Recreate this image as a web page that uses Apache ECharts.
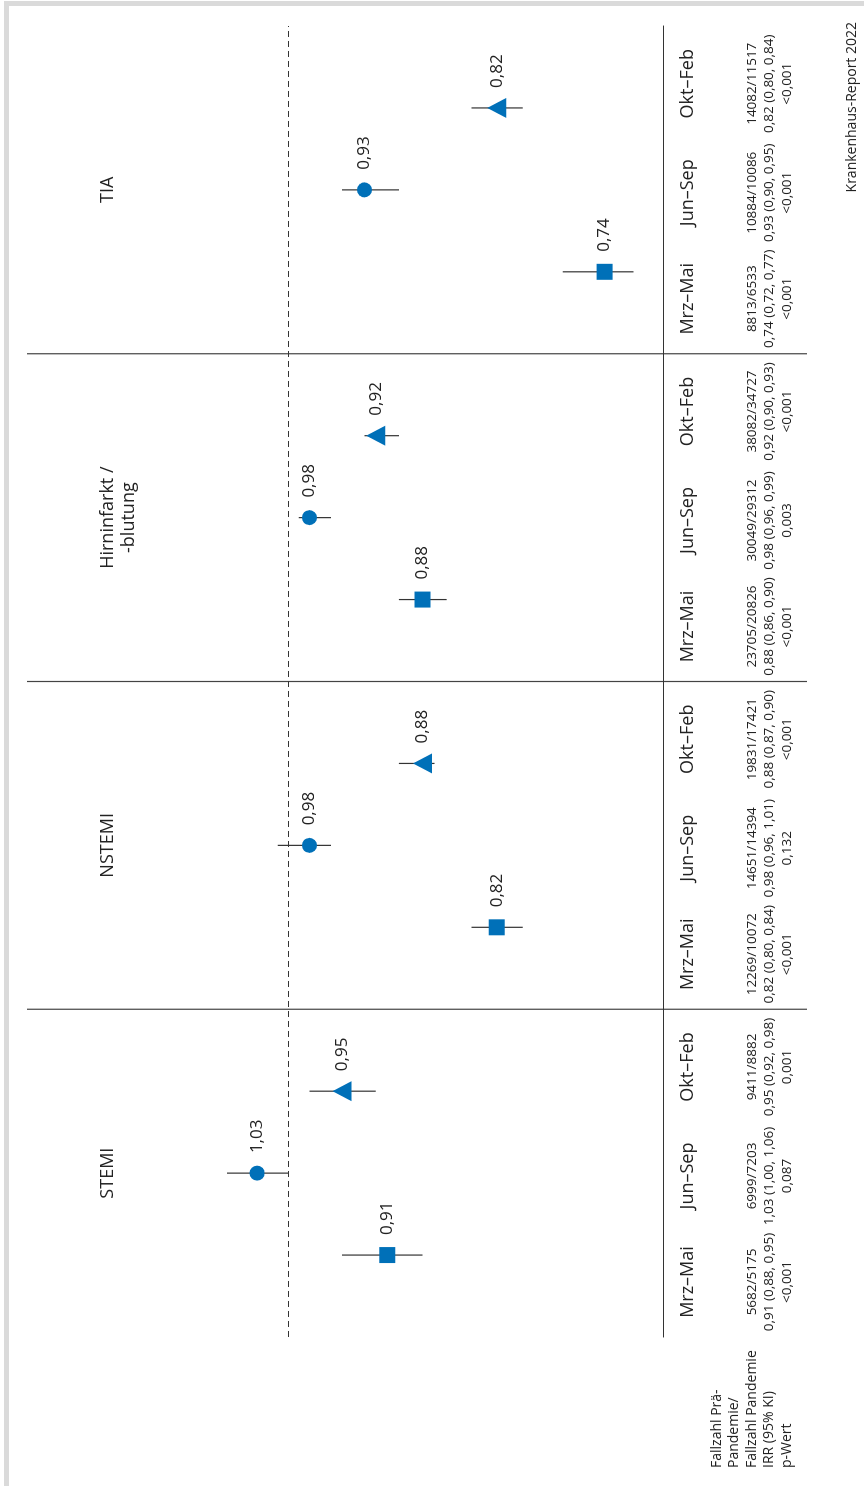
<!DOCTYPE html>
<html>
<head>
<meta charset="utf-8">
<script src="https://cdn.jsdelivr.net/npm/echarts@6/dist/echarts.min.js"></script>
<style>
  html, body { margin: 0; padding: 0; background: #fff; overflow: hidden; }
  /* chart is laid out unrotated (1486 x 864) and turned 90deg to the left */
  #chart { position: absolute; left: 0; top: 0; width: 1486px; height: 864px;
           transform-origin: 0 0; transform: translateY(1486px) rotate(-90deg); }
  #frame { position: absolute; left: 4px; top: 1px; width: 860px; height: 1485px; box-sizing: border-box;
           border-top: 5px solid #dadada; border-left: 5px solid #dadada; pointer-events: none; }
</style>
</head>
<body>
<div id="chart"></div>
<div id="frame"></div>
<script>
const periods = ['Mrz–Mai', 'Jun–Sep', 'Okt–Feb']
const groups = ['STEMI', 'NSTEMI', 'Hirninfarkt /\n-blutung', 'TIA']
const irr = [[0.91, 1.03, 0.95], [0.82, 0.98, 0.88], [0.88, 0.98, 0.92], [0.74, 0.93, 0.82]]
const ciLow = [[0.88, 1.00, 0.92], [0.80, 0.96, 0.87], [0.86, 0.96, 0.90], [0.72, 0.90, 0.80]]
const ciHigh = [[0.95, 1.06, 0.98], [0.84, 1.01, 0.90], [0.90, 0.99, 0.93], [0.77, 0.95, 0.84]]
const casesPre = [[5682, 6999, 9411], [12269, 14651, 19831], [23705, 30049, 38082], [8813, 10884, 14082]]
const casesPan = [[5175, 7203, 8882], [10072, 14394, 17421], [20826, 29312, 34727], [6533, 10086, 11517]]
const pValues = [['<0,001', '0,087', '0,001'], ['<0,001', '0,132', '<0,001'], ['<0,001', '0,003', '<0,001'], ['<0,001', '<0,001', '<0,001']]
const rowLabels = ['Fallzahl Prä-', 'Pandemie/', 'Fallzahl Pandemie', 'IRR (95% KI)', 'p-Wert']
const refValue = 1
const source = 'Krankenhaus-Report 2022'

const blue = '#0070b8'
const ink = '#222'
const font = '"Open Sans", "Noto Sans", sans-serif'
const symbols = [['rect', 16], ['circle', 15], ['triangle', [20, 19]]]
const slots = 4 // slots per panel on the x axis

const fmt = v => v.toFixed(2).replace('.', ',')

const chart = echarts.init(document.getElementById('chart'))

const ciData = []
groups.forEach((g, i) => periods.forEach((p, j) => {
  ciData.push([i * slots + j + 1, ciLow[i][j], ciHigh[i][j]])
}))

const pointSeries = periods.map((p, j) => {
  const size = symbols[j][1]
  const half = Array.isArray(size) ? size[0] / 2 : size / 2
  return {
    name: p,
    type: 'scatter',
    symbol: symbols[j][0],
    symbolSize: size,
    itemStyle: { color: blue, opacity: 1 },
    z: 5,
    label: {
      show: true,
      position: 'right',
      distance: 20 - half,
      color: ink,
      fontSize: 17,
      fontFamily: font,
      formatter: d => fmt(d.value[1])
    },
    data: groups.map((g, i) => [i * slots + j + 1, irr[i][j]])
  }
})

chart.setOption({
  animation: false,
  grid: { left: 149, right: 26, top: 188, bottom: 201 },
  xAxis: {
    type: 'value',
    min: 0,
    max: groups.length * slots,
    axisLine: { show: true, onZero: false, lineStyle: { color: '#333', width: 1.2 } },
    axisTick: { show: false },
    axisLabel: { show: false },
    splitLine: { show: false }
  },
  yAxis: {
    type: 'log',
    logBase: 10,
    min: 0.7,
    max: 1.1,
    axisLine: { show: false },
    axisTick: { show: false },
    axisLabel: { show: false },
    splitLine: { show: false }
  },
  series: [
    {
      type: 'custom',
      name: 'KI',
      z: 3,
      encode: { x: 0, y: [1, 2] },
      renderItem(params, api) {
        const a = api.coord([api.value(0), api.value(1)])
        const b = api.coord([api.value(0), api.value(2)])
        return {
          type: 'line',
          shape: { x1: a[0], y1: a[1], x2: b[0], y2: b[1] },
          style: { stroke: '#333', lineWidth: 1.2 }
        }
      },
      data: ciData,
      markLine: {
        silent: true,
        symbol: 'none',
        label: { show: false },
        lineStyle: { type: [6, 4], color: '#333', width: 1.2 },
        data: [{ yAxis: refValue }]
      }
    },
    ...pointSeries
  ]
})

// panel titles, separators and the table under the plot
const colOffsets = [55, 161, 270]
const graphics = []
groups.forEach((g, i) => {
  const left = chart.convertToPixel({ xAxisIndex: 0 }, i * slots)
  const mid = chart.convertToPixel({ xAxisIndex: 0 }, i * slots + slots / 2)
  if (i > 0) {
    graphics.push({ type: 'line', shape: { x1: left, y1: 27, x2: left, y2: 807 },
      style: { stroke: '#444', lineWidth: 1.2 } })
  }
  graphics.push({ type: 'text', x: mid, y: 97,
    style: { text: g, fontSize: 18, fontFamily: font, fill: ink, align: 'center', verticalAlign: 'top', lineHeight: 21 } })
  periods.forEach((p, j) => {
    const u = left + colOffsets[j]
    graphics.push({ type: 'text', x: u, y: 688,
      style: { text: p, fontSize: 18, fontFamily: font, fill: ink, align: 'center', verticalAlign: 'middle' } })
    const cell = casesPre[i][j] + '/' + casesPan[i][j] + '\n' +
      fmt(irr[i][j]) + ' (' + fmt(ciLow[i][j]) + ', ' + fmt(ciHigh[i][j]) + ')\n' + pValues[i][j]
    graphics.push({ type: 'text', x: u, y: 743,
      style: { text: cell, fontSize: 13.5, fontFamily: font, fill: ink, align: 'center', verticalAlign: 'top', lineHeight: 17.5 } })
  })
})
graphics.push({ type: 'text', x: 18, y: 708,
  style: { text: rowLabels.join('\n'), fontSize: 14, fontFamily: font, fill: ink, align: 'left', verticalAlign: 'top', lineHeight: 17.5 } })
graphics.push({ type: 'text', x: 1464, y: 852,
  style: { text: source, fontSize: 14, fontFamily: font, fill: ink, align: 'right', verticalAlign: 'middle' } })

chart.setOption({ graphic: graphics })
</script>
</body>
</html>
